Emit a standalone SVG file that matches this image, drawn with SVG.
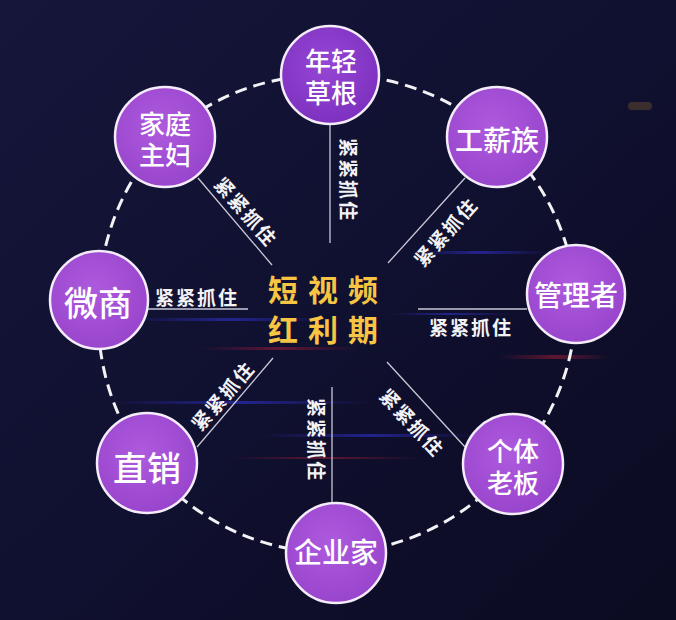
<svg xmlns="http://www.w3.org/2000/svg" width="676" height="620" viewBox="0 0 676 620">
<defs>
<linearGradient id="bg" x1="0" y1="0" x2="1" y2="1">
<stop offset="0" stop-color="#15163a"/>
<stop offset="0.5" stop-color="#101030"/>
<stop offset="1" stop-color="#0b0b22"/>
</linearGradient>
<radialGradient id="nodeFill" cx="0.45" cy="0.4" r="0.65">
<stop offset="0" stop-color="#ad5ade"/>
<stop offset="1" stop-color="#9744cc"/>
</radialGradient>
<radialGradient id="topFill" cx="0.45" cy="0.4" r="0.65">
<stop offset="0" stop-color="#9646d4"/>
<stop offset="1" stop-color="#7c2fbd"/>
</radialGradient>
<linearGradient id="streakB" x1="0" y1="0" x2="1" y2="0">
<stop offset="0" stop-color="#3a3cff" stop-opacity="0"/>
<stop offset="0.5" stop-color="#3a3cff" stop-opacity="0.45"/>
<stop offset="1" stop-color="#3a3cff" stop-opacity="0"/>
</linearGradient>
<linearGradient id="streakR" x1="0" y1="0" x2="1" y2="0">
<stop offset="0" stop-color="#c0203a" stop-opacity="0"/>
<stop offset="0.5" stop-color="#c0203a" stop-opacity="0.45"/>
<stop offset="1" stop-color="#c0203a" stop-opacity="0"/>
</linearGradient>
</defs>
<style>
.node circle{fill:url(#nodeFill);stroke:#f4ecf8;stroke-width:2.5}
.node.dark circle{fill:url(#topFill)}
.node text{fill:#ffffff;font-family:"Noto Sans CJK SC","Noto Sans",sans-serif;font-size:28px;text-anchor:middle;dominant-baseline:central;font-weight:500}
.node text.big{font-size:34px}
.node text.two{font-size:26px}
.ring{fill:none;stroke:#f2f2f6;stroke-width:3;stroke-dasharray:12 7}
.link{stroke:#c9c9d8;stroke-width:1.3}
.lbl{fill:#f3f3f6;font-family:"Noto Sans CJK SC","Noto Sans",sans-serif;font-size:19px;font-weight:bold;text-anchor:middle;dominant-baseline:central}
.title{fill:#f7c443;font-family:"Noto Sans CJK SC","Noto Sans",sans-serif;font-size:30px;font-weight:bold;dominant-baseline:central;letter-spacing:10px}
</style>
<rect width="676" height="620" fill="url(#bg)"/>
<g id="streaks">
<rect x="410" y="251" width="140" height="3" fill="url(#streakB)"/>
<rect x="500" y="355" width="110" height="4" fill="url(#streakR)"/>
<rect x="130" y="318" width="200" height="3" fill="url(#streakB)"/>
<rect x="200" y="347" width="160" height="3" fill="url(#streakR)"/>
<rect x="110" y="401" width="260" height="3" fill="url(#streakB)"/>
<rect x="260" y="434" width="220" height="3" fill="url(#streakB)"/>
<rect x="230" y="457" width="190" height="2" fill="url(#streakR)"/>
<rect x="390" y="313" width="120" height="2" fill="url(#streakB)"/>
<rect x="628" y="102" width="24" height="8" rx="4" fill="#b88a2a" opacity="0.25"/>
</g>
<g id="connectors">
<path class="ring" d="M330,75 A240,240 0 0 1 497,137 A240,240 0 0 1 576,294 A240,240 0 0 1 513,464 A240,240 0 0 1 336,553 A240,240 0 0 1 147,463 A240,240 0 0 1 99,300 A240,240 0 0 1 165,137 A240,240 0 0 1 330,75 Z"/>
<line class="link" x1="330" y1="124" x2="330" y2="243"/>
<line class="link" x1="198" y1="178" x2="272" y2="265"/>
<line class="link" x1="465" y1="178" x2="388" y2="263"/>
<line class="link" x1="148" y1="309" x2="248" y2="309"/>
<line class="link" x1="418" y1="309" x2="527" y2="309"/>
<line class="link" x1="387" y1="362" x2="465" y2="447"/>
<line class="link" x1="332" y1="387" x2="332" y2="503"/>
<line class="link" x1="197" y1="447" x2="273" y2="358"/>
<text class="lbl" transform="translate(349,180) rotate(90)" letter-spacing="2">紧紧抓住</text>
<text class="lbl" transform="translate(247,211) rotate(49)" letter-spacing="2">紧紧抓住</text>
<text class="lbl" transform="translate(445,231) rotate(-48)" letter-spacing="2">紧紧抓住</text>
<text class="lbl" x="197" y="296" letter-spacing="2">紧紧抓住</text>
<text class="lbl" x="471" y="326" letter-spacing="2">紧紧抓住</text>
<text class="lbl" transform="translate(413,422) rotate(47)" letter-spacing="2">紧紧抓住</text>
<text class="lbl" transform="translate(317,440) rotate(90)" letter-spacing="2">紧紧抓住</text>
<text class="lbl" transform="translate(222,395) rotate(-49)" letter-spacing="2">紧紧抓住</text>
</g>
<g id="center">
<text class="title" x="268" y="288">短视频<tspan x="268" dy="40">红利期</tspan></text>
</g>
<g id="n-top" class="node dark"><circle cx="330" cy="75" r="49"/><text class="two" x="331" y="59">年轻<tspan x="331" dy="32">草根</tspan></text></g>
<g id="n-gongxin" class="node"><circle cx="497" cy="137" r="50"/><text x="497" y="139">工薪族</text></g>
<g id="n-guanli" class="node"><circle cx="576" cy="294" r="49"/><text x="576" y="294">管理者</text></g>
<g id="n-geti" class="node"><circle cx="513" cy="464" r="50"/><text class="two" x="513" y="449">个体<tspan x="513" dy="32">老板</tspan></text></g>
<g id="n-qiye" class="node"><circle cx="336" cy="553" r="50"/><text x="336" y="551">企业家</text></g>
<g id="n-zhixiao" class="node"><circle cx="147" cy="463" r="50"/><text class="big" x="147" y="466">直销</text></g>
<g id="n-weishang" class="node"><circle cx="99" cy="300" r="49"/><text class="big" x="98" y="301">微商</text></g>
<g id="n-jiating" class="node"><circle cx="165" cy="137" r="50"/><text class="two" x="165" y="122">家庭<tspan x="165" dy="31">主妇</tspan></text></g>
</svg>
